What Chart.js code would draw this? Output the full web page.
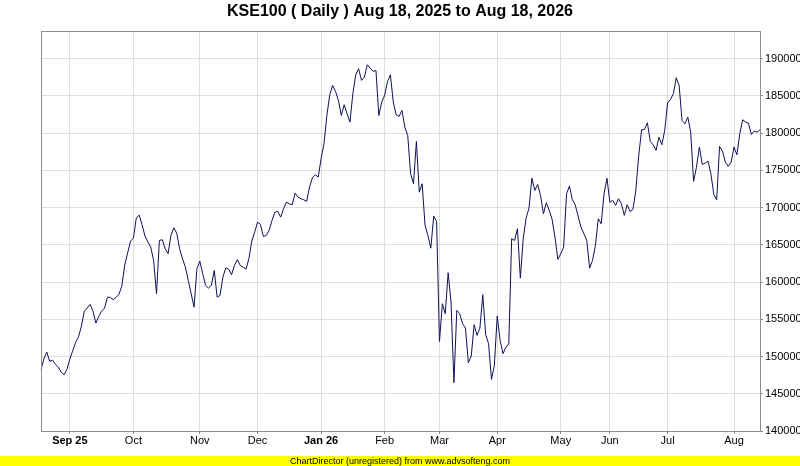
<!DOCTYPE html>
<html>
<head>
<meta charset="utf-8">
<title>KSE100 Daily</title>
<script src="https://cdn.jsdelivr.net/npm/chart.js@4"></script>
<style>
  html, body { margin: 0; padding: 0; background: #fff; }
  #wrap { width: 800px; height: 466px; }
</style>
</head>
<body>
<div id="wrap"><canvas id="kseChart" width="800" height="466"></canvas></div>
<script>
// KSE100 daily close, one value per trading day (Aug 18, 2025 .. Aug 18, 2026)
const kseClose = [
    148230, 149700, 150600, 149350, 149520, 148950, 148580, 147900, 147550, 148300,
    149680, 150800, 151900, 152650, 154100, 156100, 156520, 157000, 156100, 154500,
    155400, 156100, 156500, 157980, 157950, 157650, 157950, 158350, 159500, 162300,
    163900, 165500, 165900, 168600, 169000, 167700, 166200, 165400, 164700, 162900,
    158440, 165600, 165690, 164480, 163810, 166270, 167300, 166580, 164480, 163140,
    162010, 160230, 158440, 156640, 161800, 162820, 161130, 159560, 159200, 159560,
    161570, 157980, 158210, 160670, 161930, 161740, 160990, 162240, 163010, 162240,
    162010, 161740, 163140, 165500, 166710, 168060, 167750, 166130, 166270, 166940,
    168280, 169400, 169490, 168730, 169850, 170740, 170520, 170390, 171950, 171410,
    171200, 171060, 170840, 172760, 174020, 174420, 174100, 176570, 178580, 182380,
    185160, 186410, 185610, 184400, 182380, 183820, 182610, 181490, 185300, 187850,
    188660, 187090, 187530, 189190, 188740, 188300, 188430, 182380, 184170, 185070,
    186950, 187850, 184170, 182470, 182250, 183060, 180810, 179700, 174550, 173210,
    178890, 172080, 173210, 167610, 166270, 164560, 168860, 168150, 152030, 157100,
    155750, 161260, 157310, 146490, 156200, 155750, 154410, 153820, 149170, 150060,
    154280, 152840, 153820, 158300, 152930, 151720, 146930, 148810, 155430, 152170,
    150380, 151270, 151720, 165830, 165600, 167170, 160530, 165830, 168590, 169940,
    173960, 172310, 173120, 171640, 169180, 170660, 169630, 168420, 166040, 163050,
    163810, 164700, 171870, 172890, 171100, 170390, 168860, 167380, 166500, 165600,
    161880, 162910, 164930, 168510, 167840, 171870, 173960, 170740, 170970, 170300,
    171200, 170530, 168960, 170390, 169490, 169760, 172310, 177010, 180460, 180500,
    181400, 178890, 178450, 177690, 179470, 178450, 180370, 184090, 184530, 185300,
    187450, 186410, 181710, 181270, 182160, 180140, 173520, 175440, 178130, 175810,
    175980, 176250, 174550, 171780, 171060, 178220, 177590, 176110, 175540, 176110,
    178130, 177110, 179930, 181810, 181490, 181350, 179830, 180280, 180140, 180460
];

// first trading day of each month (index into kseClose) and its axis label
const monthStartIdx = [10, 32, 55, 75, 97, 119, 138, 158, 180, 197, 217, 240];
const monthLabels = ['Sep 25', 'Oct', 'Nov', 'Dec', 'Jan 26', 'Feb', 'Mar', 'Apr', 'May', 'Jun', 'Jul', 'Aug'];
const yearLabels = ['Sep 25', 'Jan 26'];

// y axis range and tick values
const yMin = 140000;
const yMax = 193700;
const yTicks = [140000, 145000, 150000, 155000, 160000, 165000, 170000, 175000, 180000, 185000, 190000];

// category labels: blank except on month starts
const dayLabels = kseClose.map(function (v, i) {
    const m = monthStartIdx.indexOf(i);
    return m >= 0 ? monthLabels[m] : '';
});

const FONT = '"Liberation Sans", Arial, Helvetica, sans-serif';

// plot box + ChartDirector footer
const frameAndFooter = {
    id: 'frameAndFooter',
    beforeDraw(chart) {
        const c = chart.ctx;
        c.save();
        c.fillStyle = '#ffffff';
        c.fillRect(0, 0, chart.width, chart.height);
        c.restore();
    },
    afterDraw(chart) {
        const c = chart.ctx;
        const a = chart.chartArea;
        c.save();
        c.strokeStyle = '#8c8c8c';
        c.lineWidth = 1;
        c.strokeRect(Math.round(a.left) + 0.5, Math.round(a.top) + 0.5,
            Math.round(a.right - a.left), Math.round(a.bottom - a.top));
        c.fillStyle = '#ffff00';
        c.fillRect(0, 456, chart.width, 10);
        c.fillStyle = '#000000';
        c.font = '9px ' + FONT;
        c.textAlign = 'center';
        c.textBaseline = 'middle';
        c.fillText('ChartDirector (unregistered) from www.advsofteng.com', chart.width / 2, 461.5);
        c.restore();
    }
};

const ctx = document.getElementById('kseChart').getContext('2d');
const kseChart = new Chart(ctx, {
    type: 'line',
    data: {
        labels: dayLabels,
        datasets: [{
            label: 'KSE100',
            data: kseClose,
            yAxisID: 'y',
            borderColor: '#10105a',
            borderWidth: 1,
            pointRadius: 0,
            tension: 0,
            fill: false
        }]
    },
    options: {
        responsive: false,
        animation: false,
        devicePixelRatio: 1,
        layout: {
            padding: { left: 0, right: 0, top: 0, bottom: 10 }
        },
        plugins: {
            legend: { display: false },
            tooltip: { enabled: false },
            title: {
                display: true,
                text: 'KSE100 ( Daily ) Aug 18, 2025 to Aug 18, 2026',
                color: '#000000',
                font: { family: FONT, size: 16, weight: 'bold', lineHeight: 1.2 },
                padding: { top: 2, bottom: 10 }
            }
        },
        scales: {
            x: {
                type: 'category',
                offset: false,
                grid: {
                    offset: false,
                    color: (c) => (dayLabels[c.index] ? '#dddddd' : 'rgba(0,0,0,0)'),
                    tickColor: (c) => (dayLabels[c.index] ? '#8c8c8c' : 'rgba(0,0,0,0)'),
                    tickLength: 3
                },
                border: { display: true, color: '#8c8c8c' },
                ticks: {
                    autoSkip: false,
                    maxRotation: 0,
                    minRotation: 0,
                    padding: 0,
                    color: '#000000',
                    font: (c) => ({
                        family: FONT,
                        size: 11,
                        weight: yearLabels.indexOf(dayLabels[c.index]) >= 0 ? 'bold' : 'normal'
                    }),
                    callback: (v, i) => dayLabels[i]
                },
                afterFit: (s) => { s.height = 25; }
            },
            y: {
                position: 'right',
                min: yMin,
                max: yMax,
                afterBuildTicks: (s) => {
                    s.ticks = yTicks.map((v) => ({ value: v }));
                },
                grid: {
                    color: '#dddddd',
                    tickColor: '#8c8c8c',
                    tickLength: 3
                },
                border: { display: true, color: '#8c8c8c' },
                ticks: {
                    padding: 2,
                    color: '#000000',
                    font: { family: FONT, size: 11 },
                    callback: (v) => String(v)
                },
                afterFit: (s) => { s.width = 40; }
            },
            // empty left margin so the title stays centred on the page
            yLeft: {
                position: 'left',
                min: yMin,
                max: yMax,
                grid: { display: false, drawTicks: false },
                border: { display: false },
                ticks: { display: false },
                afterFit: (s) => { s.width = 41; }
            }
        }
    },
    plugins: [frameAndFooter]
});
</script>
</body>
</html>
